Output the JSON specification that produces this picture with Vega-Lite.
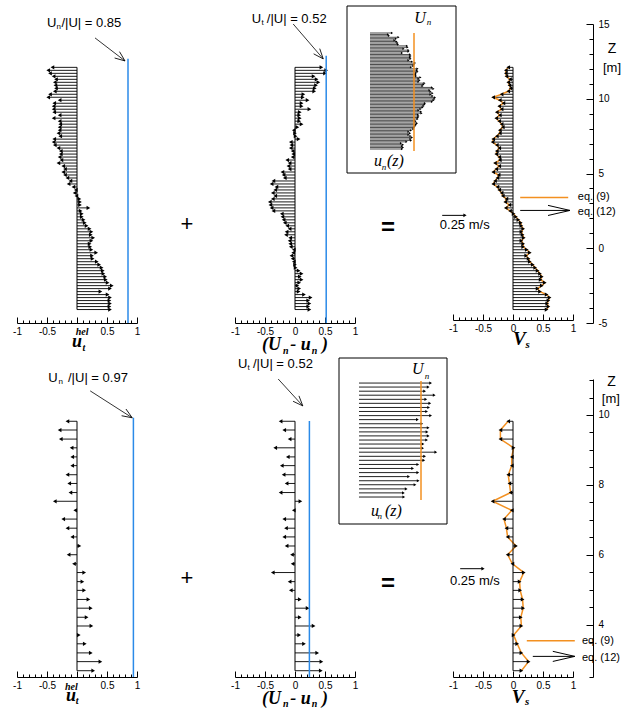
{
"$schema":"https://vega.github.io/schema/vega-lite/v6.json",
"padding":{"left":12,"top":5,"right":0,"bottom":0},
"background":"white",
"bounds":"flush",
"columns":3,
"spacing":{"row":56,"column":98},
"config":{"view":{"stroke":null},"font":"Liberation Sans","text":{"color":"#000"}},
"datasets":{
"top":[
{"z":12.1,"a":-0.41,"b":0.44,"c":-0.08},{"z":11.9,"a":-0.48,"b":0.52,"c":-0.12},{"z":11.7,"a":-0.45,"b":0.50,"c":-0.12},{"z":11.5,"a":-0.39,"b":0.31,"c":-0.11},{"z":11.3,"a":-0.35,"b":0.36,"c":-0.05},{"z":11.1,"a":-0.37,"b":0.39,"c":-0.08},{"z":10.9,"a":-0.36,"b":0.35,"c":-0.06},{"z":10.7,"a":-0.35,"b":0.33,"c":-0.04},{"z":10.5,"a":-0.37,"b":0.32,"c":-0.08},{"z":10.3,"a":-0.45,"b":0.14,"c":-0.19},{"z":10.1,"a":-0.48,"b":0.13,"c":-0.33},{"z":9.9,"a":-0.29,"b":0.21,"c":-0.22},{"z":9.7,"a":-0.38,"b":0.11,"c":-0.16},{"z":9.5,"a":-0.39,"b":0.11,"c":-0.23},{"z":9.3,"a":-0.39,"b":0.24,"c":-0.19},{"z":9.1,"a":-0.38,"b":0.08,"c":-0.27},{"z":8.9,"a":-0.29,"b":0.07,"c":-0.22},{"z":8.7,"a":-0.39,"b":0.08,"c":-0.28},{"z":8.5,"a":-0.29,"b":0.07,"c":-0.23},{"z":8.3,"a":-0.28,"b":0.11,"c":-0.19},{"z":8.1,"a":-0.29,"b":0.04,"c":-0.17},{"z":7.9,"a":-0.29,"b":-0.02,"c":-0.22},{"z":7.7,"a":-0.31,"b":0.0,"c":-0.22},{"z":7.5,"a":-0.28,"b":0.01,"c":-0.27},{"z":7.3,"a":-0.38,"b":0.06,"c":-0.33},{"z":7.1,"a":-0.39,"b":-0.07,"c":-0.34},{"z":6.9,"a":-0.37,"b":-0.06,"c":-0.27},{"z":6.7,"a":-0.31,"b":-0.07,"c":-0.23},{"z":6.5,"a":-0.27,"b":-0.04,"c":-0.27},{"z":6.3,"a":-0.27,"b":-0.03,"c":-0.28},{"z":6.1,"a":-0.29,"b":-0.04,"c":-0.23},{"z":5.9,"a":-0.26,"b":-0.13,"c":-0.22},{"z":5.7,"a":-0.31,"b":-0.09,"c":-0.30},{"z":5.5,"a":-0.23,"b":-0.11,"c":-0.23},{"z":5.3,"a":-0.20,"b":-0.09,"c":-0.28},{"z":5.1,"a":-0.23,"b":-0.21,"c":-0.33},{"z":4.9,"a":-0.20,"b":-0.19,"c":-0.24},{"z":4.7,"a":-0.16,"b":-0.17,"c":-0.26},{"z":4.5,"a":-0.11,"b":-0.36,"c":-0.30},{"z":4.3,"a":-0.14,"b":-0.39,"c":-0.33},{"z":4.1,"a":-0.06,"b":-0.31,"c":-0.26},{"z":3.9,"a":-0.02,"b":-0.33,"c":-0.23},{"z":3.7,"a":-0.04,"b":-0.37,"c":-0.19},{"z":3.5,"a":-0.01,"b":-0.33,"c":-0.17},{"z":3.3,"a":0.04,"b":-0.37,"c":-0.11},{"z":3.1,"a":0.05,"b":-0.42,"c":-0.13},{"z":2.9,"a":0.05,"b":-0.41,"c":-0.06},{"z":2.7,"a":0.19,"b":-0.39,"c":-0.12},{"z":2.5,"a":0.06,"b":-0.36,"c":-0.05},{"z":2.3,"a":0.08,"b":-0.22,"c":0.01},{"z":2.1,"a":0.08,"b":-0.21,"c":0.05},{"z":1.9,"a":0.11,"b":-0.19,"c":0.09},{"z":1.7,"a":0.13,"b":-0.17,"c":0.13},{"z":1.5,"a":0.16,"b":-0.13,"c":0.14},{"z":1.3,"a":0.21,"b":-0.09,"c":0.17},{"z":1.1,"a":0.24,"b":-0.14,"c":0.14},{"z":0.9,"a":0.23,"b":-0.15,"c":0.16},{"z":0.7,"a":0.27,"b":-0.08,"c":0.18},{"z":0.5,"a":0.24,"b":-0.09,"c":0.14},{"z":0.3,"a":0.21,"b":-0.08,"c":0.17},{"z":0.1,"a":0.22,"b":-0.07,"c":0.17},{"z":-0.1,"a":0.24,"b":-0.02,"c":0.23},{"z":-0.3,"a":0.32,"b":-0.03,"c":0.28},{"z":-0.5,"a":0.25,"b":-0.06,"c":0.22},{"z":-0.7,"a":0.26,"b":-0.04,"c":0.26},{"z":-0.9,"a":0.33,"b":-0.02,"c":0.28},{"z":-1.1,"a":0.37,"b":0.0,"c":0.33},{"z":-1.3,"a":0.41,"b":0.01,"c":0.37},{"z":-1.5,"a":0.43,"b":0.06,"c":0.41},{"z":-1.7,"a":0.44,"b":0.11,"c":0.45},{"z":-1.9,"a":0.47,"b":0.08,"c":0.48},{"z":-2.1,"a":0.48,"b":0.11,"c":0.46},{"z":-2.3,"a":0.51,"b":0.07,"c":0.53},{"z":-2.5,"a":0.58,"b":0.04,"c":0.48},{"z":-2.7,"a":0.55,"b":0.07,"c":0.41},{"z":-2.9,"a":0.39,"b":0.06,"c":0.45},{"z":-3.1,"a":0.51,"b":0.15,"c":0.56},{"z":-3.3,"a":0.55,"b":0.26,"c":0.61},{"z":-3.5,"a":0.54,"b":0.22,"c":0.59},{"z":-3.7,"a":0.55,"b":0.24,"c":0.57},{"z":-3.9,"a":0.54,"b":0.22,"c":0.59},{"z":-4.1,"a":0.55,"b":0.24,"c":0.56}
],
"bot":[
{"z":9.82,"a":-0.16,"b":-0.24,"c":-0.08},{"z":9.57,"a":-0.29,"b":-0.18,"c":-0.21},{"z":9.31,"a":-0.27,"b":-0.09,"c":-0.21},{"z":9.06,"a":-0.09,"b":-0.33,"c":0.01},{"z":8.8,"a":-0.08,"b":-0.12,"c":-0.02},{"z":8.55,"a":-0.08,"b":-0.22,"c":-0.02},{"z":8.29,"a":-0.16,"b":-0.19,"c":-0.08},{"z":8.04,"a":-0.13,"b":-0.14,"c":-0.06},{"z":7.78,"a":-0.11,"b":-0.24,"c":-0.04},{"z":7.53,"a":-0.37,"b":0.09,"c":-0.34},{"z":7.27,"a":-0.03,"b":-0.02,"c":-0.02},{"z":7.02,"a":-0.23,"b":-0.18,"c":-0.15},{"z":6.76,"a":-0.16,"b":-0.15,"c":-0.11},{"z":6.51,"a":-0.08,"b":-0.18,"c":-0.09},{"z":6.25,"a":0.04,"b":-0.14,"c":0.05},{"z":6.0,"a":-0.14,"b":-0.05,"c":-0.09},{"z":5.74,"a":-0.05,"b":-0.04,"c":-0.01},{"z":5.49,"a":0.12,"b":-0.37,"c":0.18},{"z":5.23,"a":0.09,"b":-0.09,"c":0.11},{"z":4.98,"a":0.12,"b":-0.07,"c":0.12},{"z":4.72,"a":0.19,"b":0.08,"c":0.16},{"z":4.47,"a":0.23,"b":0.21,"c":0.17},{"z":4.21,"a":0.16,"b":0.08,"c":0.13},{"z":3.96,"a":0.24,"b":0.31,"c":0.14},{"z":3.7,"a":0.03,"b":0.07,"c":0.01},{"z":3.45,"a":0.13,"b":0.15,"c":0.07},{"z":3.19,"a":0.23,"b":0.37,"c":0.14},{"z":2.94,"a":0.39,"b":0.44,"c":0.26},{"z":2.68,"a":0.27,"b":0.43,"c":0.14}
]
},
"concat":[
{"width":120,"height":299,"data":{"name":"top"},"resolve":{"axis":{"x":"independent","y":"independent"}},"layer":[
{"mark":{"type":"rule","color":"#1a1a1a","strokeWidth":1},"encoding":{"x":{"field":"a","type":"quantitative","scale":{"domain":[-1,1],"nice":false,"zero":false},"axis":{"orient":"bottom","values":[-1,-0.9,-0.8,-0.7,-0.6,-0.5,-0.4,-0.3,-0.2,-0.1,0,0.1,0.2,0.3,0.4,0.5,0.6,0.7,0.8,0.9,1],"title":null,"grid":false,"domain":true,"ticks":true,"labels":true,"domainColor":"#000","tickColor":"#000","domainWidth":1,"tickWidth":1,"tickSize":{"condition":{"test":"abs(datum.value*2-round(datum.value*2))<0.01","value":-6},"value":-3},"labelExpr":"abs(datum.value*2-round(datum.value*2))<0.01 && datum.value != 0 ? toString(datum.value) : ''","labelFont":"Liberation Sans","labelFontSize":10,"labelColor":"#000","labelPadding":9,"labelFlush":false,"labelOverlap":false}},"x2":{"datum":0},"y":{"field":"z","type":"quantitative","scale":{"domain":[-5,15],"nice":false,"zero":false},"axis":null}}},
{"mark":{"type":"point","filled":true,"color":"#000","size":18,"opacity":1},"encoding":{"x":{"field":"a","type":"quantitative","axis":null},"y":{"field":"z","type":"quantitative","axis":null},"shape":{"condition":{"test":"datum.a < 0","value":"triangle-left"},"value":"triangle-right"}}},
{"mark":{"type":"rule","color":"#000","strokeWidth":1},"encoding":{"x":{"datum":0,"axis":null},"y":{"aggregate":"max","field":"z","type":"quantitative","axis":null},"y2":{"aggregate":"min","field":"z"}}},
{"data":{"values":[{}]},"mark":{"type":"rule","color":"#2b8ae8","strokeWidth":1.5},"encoding":{"x":{"datum":0.85,"axis":null},"y":{"datum":12.67,"axis":null},"y2":{"datum":-5}}},
{"data":{"values":[{}]},"mark":{"type":"rule","color":"#000","strokeWidth":0.8},"encoding":{"x":{"datum":0.3,"axis":null},"x2":{"datum":0.8},"y":{"datum":14.07,"axis":null},"y2":{"datum":12.53}}},
{"data":{"values":[{}]},"mark":{"type":"point","shape":"M-1,-0.4L0,0L-1,0.4","size":400,"angle":37.5,"filled":false,"color":"#000","strokeWidth":0.8,"opacity":1},"encoding":{"x":{"datum":0.8,"axis":null},"y":{"datum":12.53,"axis":null}}},
{"data":{"values":[{}]},"mark":{"type":"text","text":"U","align":"left","baseline":"middle","fontSize":13,"color":"#000"},"encoding":{"x":{"datum":-0.5,"axis":null},"y":{"datum":15.07,"axis":null}}},
{"data":{"values":[{}]},"mark":{"type":"text","text":"n","align":"left","baseline":"middle","fontSize":8,"color":"#000"},"encoding":{"x":{"datum":-0.34,"axis":null},"y":{"datum":14.8,"axis":null}}},
{"data":{"values":[{}]},"mark":{"type":"text","text":"/|U| = 0.85","align":"left","baseline":"middle","fontSize":13,"color":"#000"},"encoding":{"x":{"datum":-0.26,"axis":null},"y":{"datum":15.07,"axis":null}}},
{"data":{"values":[{}]},"mark":{"type":"text","text":"+","align":"center","baseline":"middle","fontSize":22,"color":"#000"},"encoding":{"x":{"datum":1.83,"axis":null},"y":{"datum":1.6,"axis":null}}},
{"data":{"values":[{}]},"mark":{"type":"text","text":"u","align":"center","baseline":"middle","font":"Liberation Serif","fontStyle":"italic","fontWeight":"bold","fontSize":18,"color":"#000"},"encoding":{"x":{"datum":0.0,"axis":null},"y":{"datum":-6.25,"axis":null}}},
{"data":{"values":[{}]},"mark":{"type":"text","text":"hel","align":"left","baseline":"middle","font":"Liberation Serif","fontStyle":"italic","fontWeight":"bold","fontSize":10,"color":"#000"},"encoding":{"x":{"datum":-0.02,"axis":null},"y":{"datum":-5.6,"axis":null}}},
{"data":{"values":[{}]},"mark":{"type":"text","text":"t","align":"left","baseline":"middle","font":"Liberation Serif","fontStyle":"italic","fontWeight":"bold","fontSize":10,"color":"#000"},"encoding":{"x":{"datum":0.09,"axis":null},"y":{"datum":-6.65,"axis":null}}}
]},
{"width":120,"height":299,"data":{"name":"top"},"resolve":{"scale":{"x":"independent","y":"independent"},"axis":{"x":"independent","y":"independent"}},"layer":[
{"resolve":{"axis":{"x":"independent","y":"independent"}},"layer":[
{"mark":{"type":"rule","color":"#1a1a1a","strokeWidth":1},"encoding":{"x":{"field":"b","type":"quantitative","scale":{"domain":[-1,1],"nice":false,"zero":false},"axis":{"orient":"bottom","values":[-1,-0.9,-0.8,-0.7,-0.6,-0.5,-0.4,-0.3,-0.2,-0.1,0,0.1,0.2,0.3,0.4,0.5,0.6,0.7,0.8,0.9,1],"title":null,"grid":false,"domain":true,"ticks":true,"labels":true,"domainColor":"#000","tickColor":"#000","domainWidth":1,"tickWidth":1,"tickSize":{"condition":{"test":"abs(datum.value*2-round(datum.value*2))<0.01","value":-6},"value":-3},"labelExpr":"abs(datum.value*2-round(datum.value*2))<0.01 ? toString(datum.value) : ''","labelFont":"Liberation Sans","labelFontSize":10,"labelColor":"#000","labelPadding":9,"labelFlush":false,"labelOverlap":false}},"x2":{"datum":0},"y":{"field":"z","type":"quantitative","scale":{"domain":[-5,15],"nice":false,"zero":false},"axis":null}}},
{"mark":{"type":"point","filled":true,"color":"#000","size":18,"opacity":1},"encoding":{"x":{"field":"b","type":"quantitative","axis":null},"y":{"field":"z","type":"quantitative","axis":null},"shape":{"condition":{"test":"datum.b < 0","value":"triangle-left"},"value":"triangle-right"}}},
{"mark":{"type":"rule","color":"#000","strokeWidth":1},"encoding":{"x":{"datum":0,"axis":null},"y":{"aggregate":"max","field":"z","type":"quantitative","axis":null},"y2":{"aggregate":"min","field":"z"}}},
{"data":{"values":[{}]},"mark":{"type":"rule","color":"#2b8ae8","strokeWidth":1.5},"encoding":{"x":{"datum":0.52,"axis":null},"y":{"datum":12.87,"axis":null},"y2":{"datum":-5}}},
{"data":{"values":[{}]},"mark":{"type":"rule","color":"#000","strokeWidth":0.8},"encoding":{"x":{"datum":-0.03,"axis":null},"x2":{"datum":0.47},"y":{"datum":15.0,"axis":null},"y2":{"datum":12.67}}},
{"data":{"values":[{}]},"mark":{"type":"point","shape":"M-1,-0.4L0,0L-1,0.4","size":400,"angle":49.4,"filled":false,"color":"#000","strokeWidth":0.8,"opacity":1},"encoding":{"x":{"datum":0.47,"axis":null},"y":{"datum":12.67,"axis":null}}},
{"data":{"values":[{}]},"mark":{"type":"text","text":"U","align":"left","baseline":"middle","fontSize":13,"color":"#000"},"encoding":{"x":{"datum":-0.72,"axis":null},"y":{"datum":15.33,"axis":null}}},
{"data":{"values":[{}]},"mark":{"type":"text","text":"t","align":"left","baseline":"middle","fontSize":8,"color":"#000"},"encoding":{"x":{"datum":-0.56,"axis":null},"y":{"datum":15.08,"axis":null}}},
{"data":{"values":[{}]},"mark":{"type":"text","text":"/|U| = 0.52","align":"left","baseline":"middle","fontSize":13,"color":"#000"},"encoding":{"x":{"datum":-0.47,"axis":null},"y":{"datum":15.33,"axis":null}}},
{"data":{"values":[{}]},"mark":{"type":"text","text":"=","align":"center","baseline":"middle","fontSize":24,"fontWeight":"bold","color":"#000"},"encoding":{"x":{"datum":1.55,"axis":null},"y":{"datum":1.33,"axis":null}}},
{"data":{"values":[{}]},"mark":{"type":"text","text":"(U","align":"left","baseline":"middle","font":"Liberation Serif","fontStyle":"italic","fontWeight":"bold","fontSize":18,"color":"#000"},"encoding":{"x":{"datum":-0.55,"axis":null},"y":{"datum":-6.45,"axis":null}}},
{"data":{"values":[{}]},"mark":{"type":"text","text":"n","align":"left","baseline":"middle","font":"Liberation Serif","fontStyle":"italic","fontWeight":"bold","fontSize":10,"color":"#000"},"encoding":{"x":{"datum":-0.2,"axis":null},"y":{"datum":-6.85,"axis":null}}},
{"data":{"values":[{}]},"mark":{"type":"text","text":"- u","align":"left","baseline":"middle","font":"Liberation Serif","fontStyle":"italic","fontWeight":"bold","fontSize":18,"color":"#000"},"encoding":{"x":{"datum":-0.08,"axis":null},"y":{"datum":-6.45,"axis":null}}},
{"data":{"values":[{}]},"mark":{"type":"text","text":"n","align":"left","baseline":"middle","font":"Liberation Serif","fontStyle":"italic","fontWeight":"bold","fontSize":10,"color":"#000"},"encoding":{"x":{"datum":0.28,"axis":null},"y":{"datum":-6.85,"axis":null}}},
{"data":{"values":[{}]},"mark":{"type":"text","text":")","align":"left","baseline":"middle","font":"Liberation Serif","fontStyle":"italic","fontWeight":"bold","fontSize":18,"color":"#000"},"encoding":{"x":{"datum":0.45,"axis":null},"y":{"datum":-6.45,"axis":null}}}
]},
{"resolve":{"axis":{"x":"independent","y":"independent"}},"layer":[
{"data":{"values":[{}]},"mark":{"type":"rect","fill":"#fff","stroke":"#000","strokeWidth":1},"encoding":{"x":{"datum":-0.84,"type":"quantitative","scale":{"domain":[-0.84,1.34],"range":[221,112],"nice":false,"zero":false},"axis":null},"x2":{"datum":1.34},"y":{"datum":-7.45,"type":"quantitative","scale":{"domain":[-7.45,15.87],"range":[149,-18],"nice":false,"zero":false},"axis":null},"y2":{"datum":15.87}}},
{"mark":{"type":"rule","color":"#222","strokeWidth":0.8},"encoding":{"x":{"field":"b","type":"quantitative","axis":null},"x2":{"datum":0.88},"y":{"field":"z","type":"quantitative","axis":null}}},
{"mark":{"type":"point","shape":"triangle-right","filled":true,"color":"#000","size":6,"opacity":1},"encoding":{"x":{"field":"b","type":"quantitative","axis":null},"y":{"field":"z","type":"quantitative","axis":null}}},
{"data":{"values":[{}]},"mark":{"type":"rule","color":"#f39020","strokeWidth":1.5},"encoding":{"x":{"datum":0,"axis":null},"y":{"datum":12.1,"axis":null},"y2":{"datum":-4.38}}},
{"data":{"values":[{}]},"mark":{"type":"text","text":"U","align":"center","baseline":"middle","font":"Liberation Serif","fontStyle":"italic","fontSize":16,"color":"#000"},"encoding":{"x":{"datum":-0.12,"axis":null},"y":{"datum":14.2,"axis":null}}},
{"data":{"values":[{}]},"mark":{"type":"text","text":"n","align":"center","baseline":"middle","font":"Liberation Serif","fontStyle":"italic","fontSize":9,"color":"#000"},"encoding":{"x":{"datum":-0.3,"axis":null},"y":{"datum":13.64,"axis":null}}},
{"data":{"values":[{}]},"mark":{"type":"text","text":"u","align":"center","baseline":"middle","font":"Liberation Serif","fontStyle":"italic","fontSize":16,"color":"#000"},"encoding":{"x":{"datum":0.72,"axis":null},"y":{"datum":-5.78,"axis":null}}},
{"data":{"values":[{}]},"mark":{"type":"text","text":"n","align":"center","baseline":"middle","font":"Liberation Serif","fontStyle":"italic","fontSize":9,"color":"#000"},"encoding":{"x":{"datum":0.6,"axis":null},"y":{"datum":-6.61,"axis":null}}},
{"data":{"values":[{}]},"mark":{"type":"text","text":"(z)","align":"left","baseline":"middle","font":"Liberation Serif","fontStyle":"italic","fontSize":16,"color":"#000"},"encoding":{"x":{"datum":0.54,"axis":null},"y":{"datum":-5.78,"axis":null}}}
]}
]},
{"width":120,"height":299,"data":{"name":"top"},"resolve":{"axis":{"x":"independent","y":"independent"}},"layer":[
{"mark":{"type":"rule","color":"#1a1a1a","strokeWidth":1},"encoding":{"x":{"field":"c","type":"quantitative","scale":{"domain":[-1,1],"nice":false,"zero":false},"axis":{"orient":"bottom","offset":-3,"values":[-1,-0.9,-0.8,-0.7,-0.6,-0.5,-0.4,-0.3,-0.2,-0.1,0,0.1,0.2,0.3,0.4,0.5,0.6,0.7,0.8,0.9,1],"title":null,"grid":false,"domain":true,"ticks":true,"labels":true,"domainColor":"#000","tickColor":"#000","domainWidth":1,"tickWidth":1,"tickSize":{"condition":{"test":"abs(datum.value*2-round(datum.value*2))<0.01","value":-6},"value":-3},"labelExpr":"abs(datum.value*2-round(datum.value*2))<0.01 ? toString(datum.value) : ''","labelFont":"Liberation Sans","labelFontSize":10,"labelColor":"#000","labelPadding":9,"labelFlush":false,"labelOverlap":false}},"x2":{"datum":0},"y":{"field":"z","type":"quantitative","scale":{"domain":[-5,15],"nice":false,"zero":false},"axis":{"orient":"right","offset":20,"values":[-5,-4,-3,-2,-1,0,1,2,3,4,5,6,7,8,9,10,11,12,13,14,15],"title":null,"grid":false,"domain":true,"ticks":true,"labels":true,"domainColor":"#000","tickColor":"#000","domainWidth":1,"tickWidth":1,"tickSize":{"condition":{"test":"datum.value % 5 == 0","value":-7},"value":-4},"labelExpr":"datum.value % 5 == 0 ? toString(datum.value) : ''","labelFont":"Liberation Sans","labelFontSize":10,"labelColor":"#000","labelPadding":12,"labelFlush":false,"labelOverlap":false,"labelBaseline":"middle"}}}},
{"mark":{"type":"line","color":"#f39020","strokeWidth":1.5},"encoding":{"x":{"field":"c","type":"quantitative","axis":null},"y":{"field":"z","type":"quantitative","axis":null},"order":{"field":"z","type":"quantitative"}}},
{"mark":{"type":"point","filled":true,"color":"#000","size":18,"opacity":1},"encoding":{"x":{"field":"c","type":"quantitative","axis":null},"y":{"field":"z","type":"quantitative","axis":null},"shape":{"condition":{"test":"datum.c < 0","value":"triangle-left"},"value":"triangle-right"}}},
{"mark":{"type":"rule","color":"#000","strokeWidth":1},"encoding":{"x":{"datum":0,"axis":null},"y":{"aggregate":"max","field":"z","type":"quantitative","axis":null},"y2":{"aggregate":"min","field":"z"}}},
{"data":{"values":[{}]},"mark":{"type":"rule","color":"#000","strokeWidth":1},"encoding":{"x":{"datum":-1.18,"axis":null},"x2":{"datum":-0.8},"y":{"datum":2.2,"axis":null}}},
{"data":{"values":[{}]},"mark":{"type":"point","shape":"triangle-right","filled":true,"color":"#000","size":14,"opacity":1},"encoding":{"x":{"datum":-0.8,"axis":null},"y":{"datum":2.2,"axis":null}}},
{"data":{"values":[{}]},"mark":{"type":"text","text":"0.25 m/s","align":"left","baseline":"middle","fontSize":13,"color":"#000"},"encoding":{"x":{"datum":-1.22,"axis":null},"y":{"datum":1.53,"axis":null}}},
{"data":{"values":[{}]},"mark":{"type":"rule","color":"#f39020","strokeWidth":1.5},"encoding":{"x":{"datum":0.12,"axis":null},"x2":{"datum":0.92},"y":{"datum":3.4,"axis":null}}},
{"data":{"values":[{}]},"mark":{"type":"rule","color":"#000","strokeWidth":1},"encoding":{"x":{"datum":0.12,"axis":null},"x2":{"datum":0.95},"y":{"datum":2.53,"axis":null}}},
{"data":{"values":[{}]},"mark":{"type":"point","shape":"M-1,-0.23L0,0L-1,0.23","size":1936,"filled":false,"color":"#000","strokeWidth":1,"opacity":1},"encoding":{"x":{"datum":0.95,"axis":null},"y":{"datum":2.53,"axis":null}}},
{"data":{"values":[{}]},"mark":{"type":"text","text":"eq. (9)","align":"left","baseline":"middle","fontSize":11,"color":"#000"},"encoding":{"x":{"datum":1.08,"axis":null},"y":{"datum":3.4,"axis":null}}},
{"data":{"values":[{}]},"mark":{"type":"text","text":"eq. (12)","align":"left","baseline":"middle","fontSize":11,"color":"#000"},"encoding":{"x":{"datum":1.08,"axis":null},"y":{"datum":2.4,"axis":null}}},
{"data":{"values":[{}]},"mark":{"type":"text","text":"Z","align":"left","baseline":"middle","fontSize":14,"color":"#000"},"encoding":{"x":{"datum":1.58,"axis":null},"y":{"datum":13.33,"axis":null}}},
{"data":{"values":[{}]},"mark":{"type":"text","text":"[m]","align":"left","baseline":"middle","fontSize":13,"color":"#000"},"encoding":{"x":{"datum":1.5,"axis":null},"y":{"datum":12.07,"axis":null}}},
{"data":{"values":[{}]},"mark":{"type":"text","text":"V","align":"left","baseline":"middle","font":"Liberation Serif","fontStyle":"italic","fontWeight":"bold","fontSize":19,"color":"#000"},"encoding":{"x":{"datum":0.0,"axis":null},"y":{"datum":-6.1,"axis":null}}},
{"data":{"values":[{}]},"mark":{"type":"text","text":"s","align":"left","baseline":"middle","font":"Liberation Serif","fontStyle":"italic","fontWeight":"bold","fontSize":11,"color":"#000"},"encoding":{"x":{"datum":0.21,"axis":null},"y":{"datum":-6.5,"axis":null}}}
]},
{"width":120,"height":298,"data":{"name":"bot"},"resolve":{"axis":{"x":"independent","y":"independent"}},"layer":[
{"mark":{"type":"rule","color":"#1a1a1a","strokeWidth":1},"encoding":{"x":{"field":"a","type":"quantitative","scale":{"domain":[-1,1],"nice":false,"zero":false},"axis":{"orient":"bottom","values":[-1,-0.9,-0.8,-0.7,-0.6,-0.5,-0.4,-0.3,-0.2,-0.1,0,0.1,0.2,0.3,0.4,0.5,0.6,0.7,0.8,0.9,1],"title":null,"grid":false,"domain":true,"ticks":true,"labels":true,"domainColor":"#000","tickColor":"#000","domainWidth":1,"tickWidth":1,"tickSize":{"condition":{"test":"abs(datum.value*2-round(datum.value*2))<0.01","value":-6},"value":-3},"labelExpr":"abs(datum.value*2-round(datum.value*2))<0.01 && datum.value != 0 ? toString(datum.value) : ''","labelFont":"Liberation Sans","labelFontSize":10,"labelColor":"#000","labelPadding":9,"labelFlush":false,"labelOverlap":false}},"x2":{"datum":0},"y":{"field":"z","type":"quantitative","scale":{"domain":[2.5,11.03],"nice":false,"zero":false},"axis":null}}},
{"mark":{"type":"point","filled":true,"color":"#000","size":18,"opacity":1},"encoding":{"x":{"field":"a","type":"quantitative","axis":null},"y":{"field":"z","type":"quantitative","axis":null},"shape":{"condition":{"test":"datum.a < 0","value":"triangle-left"},"value":"triangle-right"}}},
{"mark":{"type":"rule","color":"#000","strokeWidth":1},"encoding":{"x":{"datum":0,"axis":null},"y":{"aggregate":"max","field":"z","type":"quantitative","axis":null},"y2":{"aggregate":"min","field":"z"}}},
{"data":{"values":[{}]},"mark":{"type":"rule","color":"#2b8ae8","strokeWidth":1.5},"encoding":{"x":{"datum":0.94,"axis":null},"y":{"datum":9.92,"axis":null},"y2":{"datum":2.5}}},
{"data":{"values":[{}]},"mark":{"type":"rule","color":"#000","strokeWidth":0.8},"encoding":{"x":{"datum":0.22,"axis":null},"x2":{"datum":0.92},"y":{"datum":10.69,"axis":null},"y2":{"datum":9.92}}},
{"data":{"values":[{}]},"mark":{"type":"point","shape":"M-1,-0.4L0,0L-1,0.4","size":400,"angle":32.7,"filled":false,"color":"#000","strokeWidth":0.8,"opacity":1},"encoding":{"x":{"datum":0.92,"axis":null},"y":{"datum":9.92,"axis":null}}},
{"data":{"values":[{}]},"mark":{"type":"text","text":"U","align":"left","baseline":"middle","fontSize":13,"color":"#000"},"encoding":{"x":{"datum":-0.48,"axis":null},"y":{"datum":11.06,"axis":null}}},
{"data":{"values":[{}]},"mark":{"type":"text","text":"n","align":"left","baseline":"middle","fontSize":8,"color":"#000"},"encoding":{"x":{"datum":-0.31,"axis":null},"y":{"datum":10.95,"axis":null}}},
{"data":{"values":[{}]},"mark":{"type":"text","text":"/|U| = 0.97","align":"left","baseline":"middle","fontSize":13,"color":"#000"},"encoding":{"x":{"datum":-0.15,"axis":null},"y":{"datum":11.06,"axis":null}}},
{"data":{"values":[{}]},"mark":{"type":"text","text":"+","align":"center","baseline":"middle","fontSize":22,"color":"#000"},"encoding":{"x":{"datum":1.83,"axis":null},"y":{"datum":5.32,"axis":null}}},
{"data":{"values":[{}]},"mark":{"type":"text","text":"u","align":"center","baseline":"middle","font":"Liberation Serif","fontStyle":"italic","fontWeight":"bold","fontSize":18,"color":"#000"},"encoding":{"x":{"datum":-0.1,"axis":null},"y":{"datum":1.95,"axis":null}}},
{"data":{"values":[{}]},"mark":{"type":"text","text":"hel","align":"left","baseline":"middle","font":"Liberation Serif","fontStyle":"italic","fontWeight":"bold","fontSize":10,"color":"#000"},"encoding":{"x":{"datum":-0.2,"axis":null},"y":{"datum":2.2,"axis":null}}},
{"data":{"values":[{}]},"mark":{"type":"text","text":"t","align":"left","baseline":"middle","font":"Liberation Serif","fontStyle":"italic","fontWeight":"bold","fontSize":10,"color":"#000"},"encoding":{"x":{"datum":-0.02,"axis":null},"y":{"datum":1.8,"axis":null}}}
]},
{"width":120,"height":298,"data":{"name":"bot"},"resolve":{"scale":{"x":"independent","y":"independent"},"axis":{"x":"independent","y":"independent"}},"layer":[
{"resolve":{"axis":{"x":"independent","y":"independent"}},"layer":[
{"mark":{"type":"rule","color":"#1a1a1a","strokeWidth":1},"encoding":{"x":{"field":"b","type":"quantitative","scale":{"domain":[-1,1],"nice":false,"zero":false},"axis":{"orient":"bottom","values":[-1,-0.9,-0.8,-0.7,-0.6,-0.5,-0.4,-0.3,-0.2,-0.1,0,0.1,0.2,0.3,0.4,0.5,0.6,0.7,0.8,0.9,1],"title":null,"grid":false,"domain":true,"ticks":true,"labels":true,"domainColor":"#000","tickColor":"#000","domainWidth":1,"tickWidth":1,"tickSize":{"condition":{"test":"abs(datum.value*2-round(datum.value*2))<0.01","value":-6},"value":-3},"labelExpr":"abs(datum.value*2-round(datum.value*2))<0.01 ? toString(datum.value) : ''","labelFont":"Liberation Sans","labelFontSize":10,"labelColor":"#000","labelPadding":9,"labelFlush":false,"labelOverlap":false}},"x2":{"datum":0},"y":{"field":"z","type":"quantitative","scale":{"domain":[2.5,11.03],"nice":false,"zero":false},"axis":null}}},
{"mark":{"type":"point","filled":true,"color":"#000","size":18,"opacity":1},"encoding":{"x":{"field":"b","type":"quantitative","axis":null},"y":{"field":"z","type":"quantitative","axis":null},"shape":{"condition":{"test":"datum.b < 0","value":"triangle-left"},"value":"triangle-right"}}},
{"mark":{"type":"rule","color":"#000","strokeWidth":1},"encoding":{"x":{"datum":0,"axis":null},"y":{"aggregate":"max","field":"z","type":"quantitative","axis":null},"y2":{"aggregate":"min","field":"z"}}},
{"data":{"values":[{}]},"mark":{"type":"rule","color":"#2b8ae8","strokeWidth":1.5},"encoding":{"x":{"datum":0.24,"axis":null},"y":{"datum":9.83,"axis":null},"y2":{"datum":2.5}}},
{"data":{"values":[{}]},"mark":{"type":"rule","color":"#000","strokeWidth":0.8},"encoding":{"x":{"datum":-0.28,"axis":null},"x2":{"datum":0.13},"y":{"datum":11.03,"axis":null},"y2":{"datum":10.26}}},
{"data":{"values":[{}]},"mark":{"type":"point","shape":"M-1,-0.4L0,0L-1,0.4","size":400,"angle":47.2,"filled":false,"color":"#000","strokeWidth":0.8,"opacity":1},"encoding":{"x":{"datum":0.13,"axis":null},"y":{"datum":10.26,"axis":null}}},
{"data":{"values":[{}]},"mark":{"type":"text","text":"U","align":"left","baseline":"middle","fontSize":13,"color":"#000"},"encoding":{"x":{"datum":-0.95,"axis":null},"y":{"datum":11.46,"axis":null}}},
{"data":{"values":[{}]},"mark":{"type":"text","text":"t","align":"left","baseline":"middle","fontSize":8,"color":"#000"},"encoding":{"x":{"datum":-0.79,"axis":null},"y":{"datum":11.35,"axis":null}}},
{"data":{"values":[{}]},"mark":{"type":"text","text":"/|U| = 0.52","align":"left","baseline":"middle","fontSize":13,"color":"#000"},"encoding":{"x":{"datum":-0.7,"axis":null},"y":{"datum":11.46,"axis":null}}},
{"data":{"values":[{}]},"mark":{"type":"text","text":"=","align":"center","baseline":"middle","fontSize":24,"fontWeight":"bold","color":"#000"},"encoding":{"x":{"datum":1.55,"axis":null},"y":{"datum":5.17,"axis":null}}},
{"data":{"values":[{}]},"mark":{"type":"text","text":"(U","align":"left","baseline":"middle","font":"Liberation Serif","fontStyle":"italic","fontWeight":"bold","fontSize":18,"color":"#000"},"encoding":{"x":{"datum":-0.55,"axis":null},"y":{"datum":1.88,"axis":null}}},
{"data":{"values":[{}]},"mark":{"type":"text","text":"n","align":"left","baseline":"middle","font":"Liberation Serif","fontStyle":"italic","fontWeight":"bold","fontSize":10,"color":"#000"},"encoding":{"x":{"datum":-0.2,"axis":null},"y":{"datum":1.72,"axis":null}}},
{"data":{"values":[{}]},"mark":{"type":"text","text":"- u","align":"left","baseline":"middle","font":"Liberation Serif","fontStyle":"italic","fontWeight":"bold","fontSize":18,"color":"#000"},"encoding":{"x":{"datum":-0.08,"axis":null},"y":{"datum":1.88,"axis":null}}},
{"data":{"values":[{}]},"mark":{"type":"text","text":"n","align":"left","baseline":"middle","font":"Liberation Serif","fontStyle":"italic","fontWeight":"bold","fontSize":10,"color":"#000"},"encoding":{"x":{"datum":0.28,"axis":null},"y":{"datum":1.72,"axis":null}}},
{"data":{"values":[{}]},"mark":{"type":"text","text":")","align":"left","baseline":"middle","font":"Liberation Serif","fontStyle":"italic","fontWeight":"bold","fontSize":18,"color":"#000"},"encoding":{"x":{"datum":0.45,"axis":null},"y":{"datum":1.88,"axis":null}}}
]},
{"resolve":{"axis":{"x":"independent","y":"independent"}},"layer":[
{"data":{"values":[{}]},"mark":{"type":"rect","fill":"#fff","stroke":"#000","strokeWidth":1},"encoding":{"x":{"datum":-0.65,"type":"quantitative","scale":{"domain":[-0.65,2.05],"range":[212,104],"nice":false,"zero":false},"axis":null},"x2":{"datum":2.05},"y":{"datum":0.99,"type":"quantitative","scale":{"domain":[0.99,11.39],"range":[145,-21],"nice":false,"zero":false},"axis":null},"y2":{"datum":11.39}}},
{"mark":{"type":"rule","color":"#222","strokeWidth":1},"encoding":{"x":{"field":"b","type":"quantitative","axis":null},"x2":{"datum":1.55},"y":{"field":"z","type":"quantitative","axis":null}}},
{"mark":{"type":"point","shape":"triangle-right","filled":true,"color":"#000","size":10,"opacity":1},"encoding":{"x":{"field":"b","type":"quantitative","axis":null},"y":{"field":"z","type":"quantitative","axis":null}}},
{"data":{"values":[{}]},"mark":{"type":"rule","color":"#f39020","strokeWidth":1.5},"encoding":{"x":{"datum":0,"axis":null},"y":{"datum":9.95,"axis":null},"y2":{"datum":2.5}}},
{"data":{"values":[{}]},"mark":{"type":"text","text":"U","align":"center","baseline":"middle","font":"Liberation Serif","fontStyle":"italic","fontSize":16,"color":"#000"},"encoding":{"x":{"datum":0.08,"axis":null},"y":{"datum":10.7,"axis":null}}},
{"data":{"values":[{}]},"mark":{"type":"text","text":"n","align":"center","baseline":"middle","font":"Liberation Serif","fontStyle":"italic","fontSize":9,"color":"#000"},"encoding":{"x":{"datum":-0.15,"axis":null},"y":{"datum":10.26,"axis":null}}},
{"data":{"values":[{}]},"mark":{"type":"text","text":"u","align":"center","baseline":"middle","font":"Liberation Serif","fontStyle":"italic","fontSize":16,"color":"#000"},"encoding":{"x":{"datum":1.15,"axis":null},"y":{"datum":1.8,"axis":null}}},
{"data":{"values":[{}]},"mark":{"type":"text","text":"n","align":"center","baseline":"middle","font":"Liberation Serif","fontStyle":"italic","fontSize":9,"color":"#000"},"encoding":{"x":{"datum":1.03,"axis":null},"y":{"datum":1.49,"axis":null}}},
{"data":{"values":[{}]},"mark":{"type":"text","text":"(z)","align":"left","baseline":"middle","font":"Liberation Serif","fontStyle":"italic","fontSize":16,"color":"#000"},"encoding":{"x":{"datum":0.9,"axis":null},"y":{"datum":1.8,"axis":null}}}
]}
]},
{"width":120,"height":298,"data":{"name":"bot"},"resolve":{"axis":{"x":"independent","y":"independent"}},"layer":[
{"mark":{"type":"rule","color":"#1a1a1a","strokeWidth":1},"encoding":{"x":{"field":"c","type":"quantitative","scale":{"domain":[-1,1],"nice":false,"zero":false},"axis":{"orient":"bottom","values":[-1,-0.9,-0.8,-0.7,-0.6,-0.5,-0.4,-0.3,-0.2,-0.1,0,0.1,0.2,0.3,0.4,0.5,0.6,0.7,0.8,0.9,1],"title":null,"grid":false,"domain":true,"ticks":true,"labels":true,"domainColor":"#000","tickColor":"#000","domainWidth":1,"tickWidth":1,"tickSize":{"condition":{"test":"abs(datum.value*2-round(datum.value*2))<0.01","value":-6},"value":-3},"labelExpr":"abs(datum.value*2-round(datum.value*2))<0.01 ? toString(datum.value) : ''","labelFont":"Liberation Sans","labelFontSize":10,"labelColor":"#000","labelPadding":9,"labelFlush":false,"labelOverlap":false}},"x2":{"datum":0},"y":{"field":"z","type":"quantitative","scale":{"domain":[2.5,11.03],"nice":false,"zero":false},"axis":{"orient":"right","offset":20,"values":[2.5,3,3.5,4,4.5,5,5.5,6,6.5,7,7.5,8,8.5,9,9.5,10,10.5,11],"title":null,"grid":false,"domain":true,"ticks":true,"labels":true,"domainColor":"#000","tickColor":"#000","domainWidth":1,"tickWidth":1,"tickSize":{"condition":{"test":"datum.value % 2 == 0","value":-7},"value":-4},"labelExpr":"datum.value % 2 == 0 ? toString(datum.value) : ''","labelFont":"Liberation Sans","labelFontSize":10,"labelColor":"#000","labelPadding":12,"labelFlush":false,"labelOverlap":false,"labelBaseline":"middle"}}}},
{"mark":{"type":"line","color":"#f39020","strokeWidth":1.5},"encoding":{"x":{"field":"c","type":"quantitative","axis":null},"y":{"field":"z","type":"quantitative","axis":null},"order":{"field":"z","type":"quantitative"}}},
{"mark":{"type":"point","filled":true,"color":"#000","size":18,"opacity":1},"encoding":{"x":{"field":"c","type":"quantitative","axis":null},"y":{"field":"z","type":"quantitative","axis":null},"shape":{"condition":{"test":"datum.c < 0","value":"triangle-left"},"value":"triangle-right"}}},
{"mark":{"type":"rule","color":"#000","strokeWidth":1},"encoding":{"x":{"datum":0,"axis":null},"y":{"aggregate":"max","field":"z","type":"quantitative","axis":null},"y2":{"aggregate":"min","field":"z"}}},
{"data":{"values":[{}]},"mark":{"type":"rule","color":"#000","strokeWidth":1},"encoding":{"x":{"datum":-0.88,"axis":null},"x2":{"datum":-0.5},"y":{"datum":5.6,"axis":null}}},
{"data":{"values":[{}]},"mark":{"type":"point","shape":"triangle-right","filled":true,"color":"#000","size":14,"opacity":1},"encoding":{"x":{"datum":-0.5,"axis":null},"y":{"datum":5.6,"axis":null}}},
{"data":{"values":[{}]},"mark":{"type":"text","text":"0.25 m/s","align":"left","baseline":"middle","fontSize":13,"color":"#000"},"encoding":{"x":{"datum":-1.05,"axis":null},"y":{"datum":5.26,"axis":null}}},
{"data":{"values":[{}]},"mark":{"type":"rule","color":"#f39020","strokeWidth":1.5},"encoding":{"x":{"datum":0.23,"axis":null},"x2":{"datum":1.03},"y":{"datum":3.54,"axis":null}}},
{"data":{"values":[{}]},"mark":{"type":"rule","color":"#000","strokeWidth":1},"encoding":{"x":{"datum":0.33,"axis":null},"x2":{"datum":1.03},"y":{"datum":3.09,"axis":null}}},
{"data":{"values":[{}]},"mark":{"type":"point","shape":"M-1,-0.23L0,0L-1,0.23","size":1936,"filled":false,"color":"#000","strokeWidth":1,"opacity":1},"encoding":{"x":{"datum":1.03,"axis":null},"y":{"datum":3.09,"axis":null}}},
{"data":{"values":[{}]},"mark":{"type":"text","text":"eq. (9)","align":"left","baseline":"middle","fontSize":11,"color":"#000"},"encoding":{"x":{"datum":1.15,"axis":null},"y":{"datum":3.54,"axis":null}}},
{"data":{"values":[{}]},"mark":{"type":"text","text":"eq. (12)","align":"left","baseline":"middle","fontSize":11,"color":"#000"},"encoding":{"x":{"datum":1.15,"axis":null},"y":{"datum":3.03,"axis":null}}},
{"data":{"values":[{}]},"mark":{"type":"text","text":"Z","align":"left","baseline":"middle","fontSize":14,"color":"#000"},"encoding":{"x":{"datum":1.57,"axis":null},"y":{"datum":10.95,"axis":null}}},
{"data":{"values":[{}]},"mark":{"type":"text","text":"[m]","align":"left","baseline":"middle","fontSize":13,"color":"#000"},"encoding":{"x":{"datum":1.48,"axis":null},"y":{"datum":10.46,"axis":null}}},
{"data":{"values":[{}]},"mark":{"type":"text","text":"V","align":"left","baseline":"middle","font":"Liberation Serif","fontStyle":"italic","fontWeight":"bold","fontSize":19,"color":"#000"},"encoding":{"x":{"datum":-0.02,"axis":null},"y":{"datum":1.92,"axis":null}}},
{"data":{"values":[{}]},"mark":{"type":"text","text":"s","align":"left","baseline":"middle","font":"Liberation Serif","fontStyle":"italic","fontWeight":"bold","fontSize":11,"color":"#000"},"encoding":{"x":{"datum":0.2,"axis":null},"y":{"datum":1.78,"axis":null}}}
]}
]
}
